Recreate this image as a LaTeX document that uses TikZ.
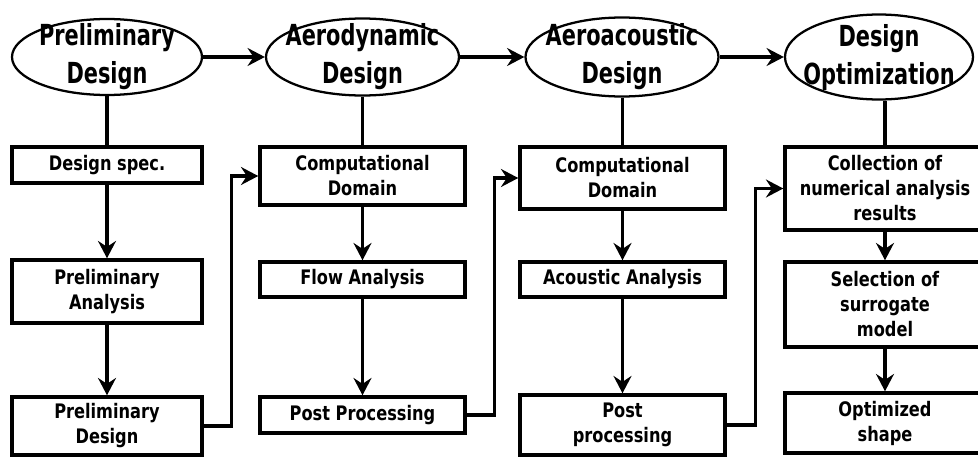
\documentclass[tikz,border=0pt]{standalone}
\usepackage{fontspec}
\setmainfont{DejaVu Sans Condensed Bold}[FakeStretch=0.9]
\newfontfamily\titlefont{DejaVu Sans Condensed Bold}[FakeStretch=0.8]
\usetikzlibrary{arrows.meta,shapes.geometric}

\begin{document}
\begin{tikzpicture}[x=0.75pt,y=-0.75pt,
  sz/.style 2 args={minimum width=#1*0.75pt, minimum height=#2*0.75pt},
  box/.style={draw, rectangle, line width=2.6pt, inner sep=0pt, align=center,
    font=\fontsize{15}{18.75}\selectfont},
  ell/.style={draw, ellipse, line width=1.7pt, inner sep=0pt},
  etxt/.style={align=center, inner sep=0pt, font=\titlefont\fontsize{21.75}{28.5}\selectfont},
  link/.style={line width=2.4pt},
  arr/.style={link, -{Stealth[length=13pt,width=13.5pt,inset=4.5pt]}}]
\useasboundingbox (0,0) rectangle (978,457);
\clip (0,0) rectangle (978,457);

% stage ellipses
\node[ell, sz={190}{76}, label={[etxt]center:{Preliminary\\Design}}] (E1) at (107,57) {};
\node[ell, sz={193}{77}, label={[etxt]center:{Aerodynamic\\Design}}] (E2) at (362.5,57) {};
\node[ell, sz={193}{79}, label={[etxt]center:{Aeroacoustic\\Design}}] (E3) at (622,57) {};
\node[ell, sz={188}{85}, label={[etxt]center:{Design\\Optimization}}] (E4) at (879,57) {};

% column 1
\node[box, sz={190}{36}] (b11) at (107,165) {Design spec.};
\node[box, sz={190}{63}] (b12) at (107,291.5) {Preliminary\\Analysis};
\node[box, sz={190}{58}] (b13) at (107,426) {Preliminary\\Design};
% column 2
\node[box, sz={205}{58}] (b21) at (362.5,176) {Computational\\Domain};
\node[box, sz={205}{35}] (b22) at (362.5,279.5) {Flow Analysis};
\node[box, sz={205}{36}] (b23) at (362.5,415) {Post Processing};
% column 3
\node[box, sz={205}{62}] (b31) at (622.5,178) {Computational\\Domain};
\node[box, sz={205}{35}] (b32) at (622.5,279.5) {Acoustic Analysis};
\node[box, sz={205}{60}] (b33) at (622.5,425) {Post\\processing};
% column 4
\node[box, sz={200}{83}] (b41) at (885,188.5) {Collection of\\numerical analysis\\results};
\node[box, sz={200}{85}] (b42) at (885,304.5) {Selection of\\surrogate\\model};
\node[box, sz={200}{60}] (b43) at (885,423) {Optimized\\shape};

% stage sequence
\draw[arr] (E1) -- (E2);
\draw[arr] (E2) -- (E3);
\draw[arr] (E3) -- (E4);

% stage to first step
\draw[link] (E1.south -| b11.north) -- (b11.north);
\draw[link] (E2.south -| b21.north) -- (b21.north);
\draw[link] (E3.south -| b31.north) -- (b31.north);
\draw[link] (E4.south -| b41.north) -- (b41.north);

% steps within each stage
\draw[arr] (b11) -- (b12);
\draw[arr] (b12) -- (b13);
\draw[arr] (b21) -- (b22);
\draw[arr] (b22) -- (b23);
\draw[arr] (b31) -- (b32);
\draw[arr] (b32) -- (b33);
\draw[arr] (b41) -- (b42);
\draw[arr] (b42) -- (b43);

% hand-over between stages
\draw[arr] (b13.east) -- ++(28,0) |- (b21.west);
\draw[arr] (b23.east) -- ++(28,0) |- (b31.west);
\draw[arr] (b33.east) -- ++(29,0) |- (b41.west);
\end{tikzpicture}
\end{document}
